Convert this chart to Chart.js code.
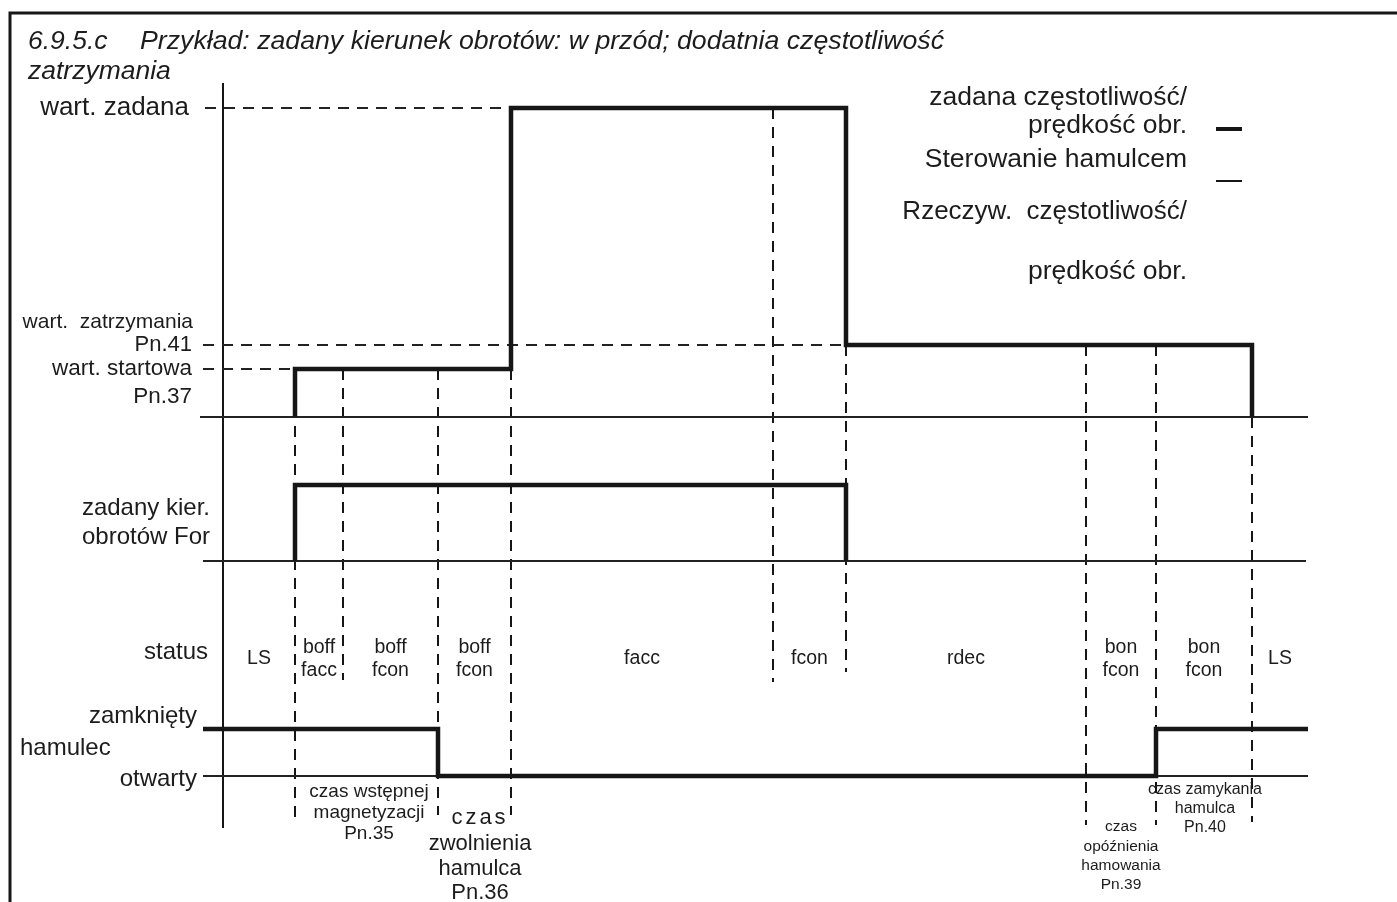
<!DOCTYPE html>
<html>
<head>
<meta charset="utf-8">
<script src="https://cdn.jsdelivr.net/npm/chart.js@4/dist/chart.umd.min.js"></script>
<style>
  body { margin: 0; background: #fff; }
  #wrap { width: 1397px; height: 902px; position: relative; }
</style>
</head>
<body>
<div id="wrap"><canvas id="chart"></canvas></div>
<script>
// time axis: 0 = start of diagram (vertical axis)
const tStart = -2.0;
const tEnd = 108.5;
const eventTimes = [7.2, 12.0, 21.5, 28.8, 55.0, 62.3, 86.3, 93.3, 102.9];

// setpoint frequency
const startFreq = 5.0;   // Pn.37
const stopFreq = 7.5;    // Pn.41
const setFreq = 32.2;    // wart. zadana
const freqTimes = [7.2, 28.8, 62.3, 102.9];
const freqLevels = [startFreq, setFreq, stopFreq, 0];

// direction For
const dirTimes = [7.2, 62.3];
const dirLevels = [1, 0];

// brake: 1 = zamknięty, 0 = otwarty
const brakeInitial = 1;
const brakeTimes = [21.5, 93.3];
const brakeLevels = [0, 1];

// status row
const statusBounds = [0, 7.2, 12.0, 21.5, 28.8, 55.0, 62.3, 86.3, 93.3, 102.9, 108.5];
const statusLabels = [['LS'], ['boff', 'facc'], ['boff', 'fcon'], ['boff', 'fcon'], ['facc'],
  ['fcon'], ['rdec'], ['bon', 'fcon'], ['bon', 'fcon'], ['LS']];

// time annotations under the brake row
const noteTimes = [14.6, 25.7, 89.8, 98.2];
const noteTexts = [
  ['czas wstępnej', 'magnetyzacji', 'Pn.35'],
  ['czas', 'zwolnienia', 'hamulca', 'Pn.36'],
  ['czas', 'opóźnienia', 'hamowania', 'Pn.39'],
  ['czas zamykania', 'hamulca', 'Pn.40']
];

// ---- layout (pixels) ----
const W = 1397, H = 902;
const xAxisPx = 223, pxPerT = 10;
const rows = {
  yFreq: { base: 417, unit: 9.6 },
  yDir: { base: 561, unit: 76 },
  yBrake: { base: 776, unit: 47 }
};
const guideSpans = [[369, 825], [369, 680], [369, 815], [369, 815], [108, 682], [345, 672], [345, 825], [345, 825], [417, 822]];
const noteRows = [[792, 813, 834], [818, 844, 869, 893], [827, 847, 866, 885], [790, 809, 828]];
const noteSizes = [19, 22, 15.5, 16];
const FONT = '"Liberation Sans", Arial, Helvetica, sans-serif';
const INK = '#161616';

function steps(t0, v0, times, levels, tLast) {
  const pts = [{ x: t0, y: v0 }];
  let v = v0;
  times.forEach((t, i) => {
    pts.push({ x: t, y: v });
    v = levels[i];
    pts.push({ x: t, y: v });
  });
  if (tLast !== undefined) pts.push({ x: tLast, y: v });
  return pts;
}

function rowScale(r) {
  return {
    type: 'linear', display: false,
    min: -(H - r.base) / r.unit, max: r.base / r.unit
  };
}

const thick = { borderColor: INK, borderWidth: 4.5, showLine: true, pointRadius: 0, fill: false,
  borderCapStyle: 'butt', borderJoinStyle: 'miter', tension: 0 };
const thin = Object.assign({}, thick, { borderWidth: 2, borderColor: '#222' });
const dashed = Object.assign({}, thin, { borderDash: [11, 8] });

const datasets = [
  Object.assign({ label: 'freq', yAxisID: 'yFreq', data: steps(freqTimes[0], 0, freqTimes, freqLevels) }, thick),
  Object.assign({ label: 'dir', yAxisID: 'yDir', data: steps(dirTimes[0], 0, dirTimes, dirLevels) }, thick),
  Object.assign({ label: 'brake', yAxisID: 'yBrake', data: steps(tStart, brakeInitial, brakeTimes, brakeLevels, tEnd) }, thick),
  Object.assign({ label: 'base1', yAxisID: 'yFreq', data: [{ x: tStart - 0.3, y: 0 }, { x: tEnd, y: 0 }] }, thin),
  Object.assign({ label: 'base2', yAxisID: 'yDir', data: [{ x: tStart, y: 0 }, { x: tEnd - 0.2, y: 0 }] }, thin),
  Object.assign({ label: 'base3', yAxisID: 'yBrake', data: [{ x: tStart, y: 0 }, { x: tEnd, y: 0 }] }, thin),
  Object.assign({ label: 'set', yAxisID: 'yFreq', data: [{ x: tStart + 0.2, y: setFreq }, { x: freqTimes[1], y: setFreq }] }, dashed),
  Object.assign({ label: 'stop', yAxisID: 'yFreq', data: [{ x: tStart, y: stopFreq }, { x: freqTimes[2], y: stopFreq }] }, dashed),
  Object.assign({ label: 'start', yAxisID: 'yFreq', data: [{ x: tStart, y: startFreq }, { x: freqTimes[0], y: startFreq }] }, dashed)
];

function text(ctx, s, x, y, size, align, style) {
  ctx.font = (style || '') + ' ' + size + 'px ' + FONT;
  ctx.textAlign = align || 'center';
  ctx.fillText(s, x, y);
}

const drawing = {
  id: 'drawing',
  beforeDatasetsDraw(chart) {
    const ctx = chart.ctx;
    const xs = chart.scales.x;
    ctx.save();
    ctx.strokeStyle = INK;
    // frame
    ctx.lineWidth = 3;
    ctx.beginPath();
    ctx.moveTo(10, H); ctx.lineTo(10, 13); ctx.lineTo(W, 13);
    ctx.stroke();
    // main axis
    ctx.lineWidth = 2;
    const ax = Math.round(xs.getPixelForValue(0));
    ctx.beginPath(); ctx.moveTo(ax, 83); ctx.lineTo(ax, 828); ctx.stroke();
    // event guides
    ctx.setLineDash([11, 8]);
    eventTimes.forEach((t, i) => {
      const px = Math.round(xs.getPixelForValue(t));
      ctx.beginPath();
      ctx.moveTo(px, guideSpans[i][0]);
      ctx.lineTo(px, guideSpans[i][1]);
      ctx.stroke();
    });
    ctx.restore();
  },
  afterDraw(chart) {
    const ctx = chart.ctx;
    const xs = chart.scales.x;
    ctx.save();
    ctx.fillStyle = '#1c1c1c';
    ctx.textBaseline = 'middle';
    // title
    text(ctx, '6.9.5.c', 28, 42, 26.5, 'left', 'italic');
    text(ctx, 'Przykład: zadany kierunek obrotów: w przód; dodatnia częstotliwość', 140, 42, 26.7, 'left', 'italic');
    text(ctx, 'zatrzymania', 28, 72, 26.5, 'left', 'italic');
    // row labels
    text(ctx, 'wart. zadana', 189, 108, 26, 'right');
    text(ctx, 'wart.  zatrzymania', 193, 322, 21, 'right');
    text(ctx, 'Pn.41', 192, 345, 22, 'right');
    text(ctx, 'wart. startowa', 192, 369, 22.5, 'right');
    text(ctx, 'Pn.37', 192, 397, 22.5, 'right');
    text(ctx, 'zadany kier.', 210, 508, 24, 'right');
    text(ctx, 'obrotów For', 210, 537, 24, 'right');
    text(ctx, 'status', 208, 652, 24, 'right');
    text(ctx, 'zamknięty', 197, 716, 24, 'right');
    text(ctx, 'hamulec', 20, 748, 24, 'left');
    text(ctx, 'otwarty', 197, 779, 24, 'right');
    // status labels
    statusLabels.forEach((lines, i) => {
      const cx = xs.getPixelForValue((statusBounds[i] + statusBounds[i + 1]) / 2);
      if (lines.length === 1) text(ctx, lines[0], cx, 659, 19.5);
      else { text(ctx, lines[0], cx, 648, 19.5); text(ctx, lines[1], cx, 671, 19.5); }
    });
    // notes
    noteTexts.forEach((lines, i) => {
      const cx = xs.getPixelForValue(noteTimes[i]);
      lines.forEach((s, j) => {
        ctx.letterSpacing = (i === 1 && j === 0) ? '3px' : '0px';
        text(ctx, s, cx, noteRows[i][j], noteSizes[i]);
      });
    });
    ctx.letterSpacing = '0px';
    // legend
    text(ctx, 'zadana częstotliwość/', 1187, 98, 26.5, 'right');
    text(ctx, 'prędkość obr.', 1187, 126, 26.5, 'right');
    text(ctx, 'Sterowanie hamulcem', 1187, 160, 26.5, 'right');
    text(ctx, 'Rzeczyw.  częstotliwość/', 1187, 212, 26, 'right');
    text(ctx, 'prędkość obr.', 1187, 272, 26.5, 'right');
    ctx.strokeStyle = INK;
    ctx.lineWidth = 4;
    ctx.beginPath(); ctx.moveTo(1216, 129); ctx.lineTo(1242, 129); ctx.stroke();
    ctx.lineWidth = 2;
    ctx.beginPath(); ctx.moveTo(1216, 181); ctx.lineTo(1242, 181); ctx.stroke();
    ctx.restore();
  }
};

new Chart(document.getElementById('chart'), {
  type: 'scatter',
  data: { datasets: datasets },
  options: {
    responsive: true,
    maintainAspectRatio: false,
    animation: false,
    layout: { padding: 0 },
    plugins: { legend: { display: false }, tooltip: { enabled: false } },
    scales: {
      x: { type: 'linear', display: false, min: -xAxisPx / pxPerT, max: (W - xAxisPx) / pxPerT },
      yFreq: rowScale(rows.yFreq),
      yDir: rowScale(rows.yDir),
      yBrake: rowScale(rows.yBrake)
    }
  },
  plugins: [drawing]
});
</script>
</body>
</html>
